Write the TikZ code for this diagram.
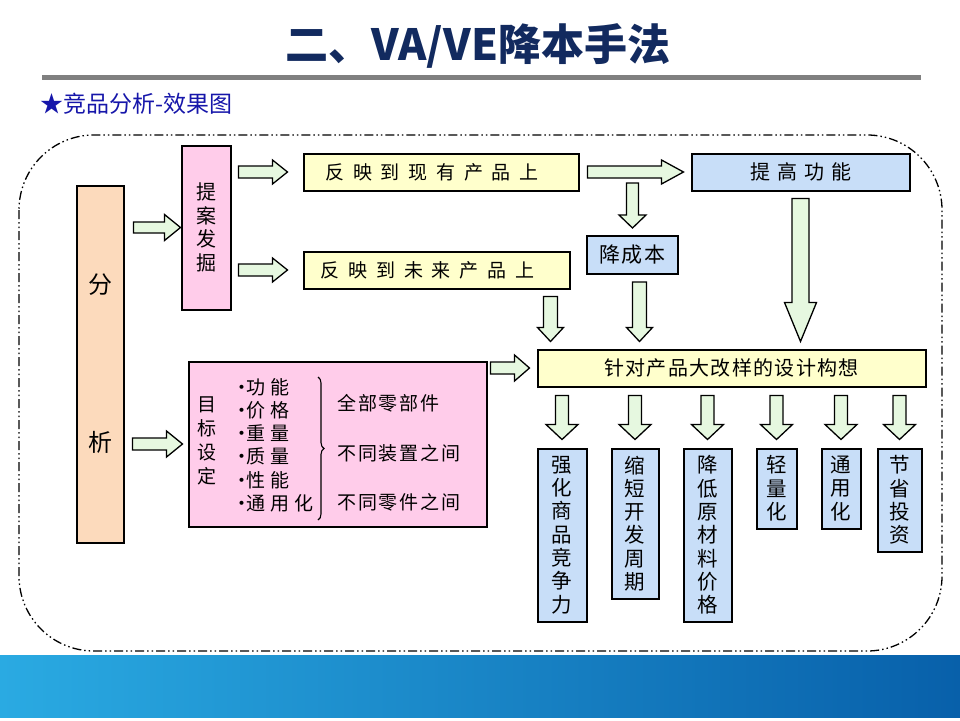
\documentclass[tikz,border=0pt]{standalone}
\usepackage{fontspec}
\setmainfont{Noto Sans CJK SC}
\usetikzlibrary{calc}
\usetikzlibrary{decorations.pathreplacing}
\definecolor{titlenavy}{RGB}{18,42,95}
\definecolor{subblue}{RGB}{22,22,170}
\definecolor{rulegray}{RGB}{128,128,128}
\definecolor{peachfill}{RGB}{252,218,188}
\definecolor{pinkfill}{RGB}{255,204,234}
\definecolor{creamfill}{RGB}{255,255,204}
\definecolor{skyfill}{RGB}{200,222,248}
\definecolor{arrowfill}{RGB}{230,248,224}
\definecolor{bandlight}{RGB}{42,170,226}
\definecolor{banddark}{RGB}{8,96,170}
\newcommand\lsfont[3]{\fontsize{#1}{#2}\selectfont\addfontfeature{LetterSpace=#3}}
\newcommand\mdot{\makebox[8pt][c]{·}}
\tikzset{box/.style={draw=black, line width=2pt, inner sep=0pt, align=center,
            font=\fontsize{19}{23}\selectfont},
         peachbox/.style={box, fill=peachfill},
         pinkbox/.style={box, fill=pinkfill},
         creambox/.style={box, fill=creamfill},
         skybox/.style={box, fill=skyfill},
         colbox/.style={skybox, font=\fontsize{20.5}{23.3}\selectfont},
         dashframe/.style={line width=1.3pt, rounded corners=75pt,
            dash pattern=on 9pt off 3pt on 1.5pt off 3pt on 1.5pt off 3pt},
         fat shaft/.store in=\fatshaft, fat head/.store in=\fathead,
         fat len/.store in=\fatlen, fat gap a/.store in=\fatgapa,
         fat gap b/.store in=\fatgapb,
         fat shaft=6pt, fat head=13pt, fat len=15pt, fat gap a=7pt, fat gap b=7pt,
         fatarrow/.style={draw=black, fill=arrowfill, line width=1.3pt,
            to path={let \p1=($(\tikztostart)!\fatgapa!(\tikztotarget)$),
                         \p2=($(\tikztotarget)!\fatgapb!(\tikztostart)$),
                         \p3=($(\p2)!\fatlen!(\p1)$) in
               ($(\p1)!\fatshaft!90:(\p2)$) -- ($(\p3)!\fatshaft!90:(\p2)$)
               -- ($(\p3)!\fathead!90:(\p2)$) -- (\p2)
               -- ($(\p3)!\fathead!-90:(\p2)$) -- ($(\p3)!\fatshaft!-90:(\p2)$)
               -- ($(\p1)!\fatshaft!-90:(\p2)$) -- cycle}}}
\begin{document}
\begin{tikzpicture}[x=1pt,y=-1pt]
\useasboundingbox (0,0) rectangle (960,720);
\fill[white] (0,0) rectangle (960,720);
\shade[left color=bandlight, right color=banddark] (0,655) rectangle (960,717);
\node[font=\fontsize{43}{46}\selectfont\bfseries, text=titlenavy] (title) at (478,46) {二、VA/VE降本手法};
\draw[line width=5pt, rulegray] (42,77.5) -- (921,77.5);
\node[anchor=west, inner sep=0pt, font=\fontsize{23}{26}\selectfont, text=subblue] (subtitle) at (40,104) {★竞品分析-效果图};
\draw[dashframe] (19,135) rectangle (942,651);

\node[peachbox, minimum width=47pt, minimum height=357pt, font=\fontsize{24}{26}\selectfont] (fenxi) at (100,364) {分\\[132pt]析};
\node[pinkbox, minimum width=49pt, minimum height=164pt, font=\fontsize{20}{23.5}\selectfont] (tian) at (206,227.5) {提\\案\\发\\掘};
\node[creambox, minimum width=275pt, minimum height=37pt, font=\lsfont{19}{21}{46}] (xianyou) at (441,172) {反映到现有产品上\hspace{18pt}};
\node[creambox, minimum width=266pt, minimum height=37pt, font=\lsfont{19}{21}{46}] (weilai) at (436.5,270) {反映到未来产品上\hspace{18pt}};
\node[skybox, minimum width=218pt, minimum height=37pt, font=\lsfont{20}{22}{35}] (tigao) at (800.5,172) {提高功能};
\node[skybox, minimum width=91pt, minimum height=38pt, font=\lsfont{21}{23}{5}] (jiang) at (632.5,255) {降成本};
\node[creambox, minimum width=388pt, minimum height=37pt, font=\lsfont{20}{22}{6.5}] (gouxiang) at (731.5,368) {针对产品大改样的设计构想};

\node[pinkbox, minimum width=298pt, minimum height=165pt] (mubiao) at (337.5,444) {};
\node[align=center, inner sep=0pt, font=\fontsize{19}{24}\selectfont] (mbtitle) at (207,441) {目\\标\\设\\定};
\node[anchor=west, align=left, inner sep=0pt, font=\lsfont{19}{23.2}{26}] (mblist) at (238,445) {\mdot 功能\\\mdot 价格\\\mdot 重量\\\mdot 质量\\\mdot 性能\\\mdot 通用化};
\draw[decorate, decoration={brace, amplitude=6pt}, line width=1.1pt] (318,377) -- (318,520);
\node[anchor=west, inner sep=0pt, font=\lsfont{19}{21}{10}] (quanbu) at (337,403) {全部零部件};
\node[anchor=west, inner sep=0pt, font=\lsfont{19}{21}{10}] (zhuangzhi) at (337,453) {不同装置之间};
\node[anchor=west, inner sep=0pt, font=\lsfont{19}{21}{10}] (lingjian) at (337,502) {不同零件之间};

\node[colbox, minimum width=49pt, minimum height=173pt] (qianghua) at (562,535) {强\\化\\商\\品\\竞\\争\\力};
\node[colbox, minimum width=47pt, minimum height=150pt] (suoduan) at (635,523.5) {缩\\短\\开\\发\\周\\期};
\node[colbox, minimum width=48pt, minimum height=173pt] (jiangdi) at (707.5,535) {降\\低\\原\\材\\料\\价\\格};
\node[colbox, minimum width=40pt, minimum height=80pt] (qingliang) at (776.5,488.5) {轻\\量\\化};
\node[colbox, minimum width=39pt, minimum height=80pt] (tongyong) at (841,488.5) {通\\用\\化};
\node[colbox, minimum width=44pt, minimum height=103pt] (jiesheng) at (899.5,500) {节\\省\\投\\资};

\draw[fatarrow, fat gap a=9pt, fat gap b=0pt, fat shaft=5.5pt, fat len=16pt] (fenxi.east |- tian.west) to (tian.west);
\draw[fatarrow, fat gap b=15pt, fat head=12pt] (tian.east |- xianyou.west) to (xianyou.west);
\draw[fatarrow, fat gap b=15pt, fat head=12pt] (tian.east |- weilai.west) to (weilai.west);
\draw[fatarrow, fat gap a=8pt, fat gap b=5pt, fat len=16pt] (fenxi.east |- mubiao.west) to (mubiao.west);
\draw[fatarrow, fat gap a=3pt] (mubiao.east |- gouxiang.west) to (gouxiang.west);
\draw[fatarrow, fat gap a=8pt, fat head=12pt, fat len=22pt] (xianyou.east) to (tigao.west);
\coordinate (fork) at (jiang.north |- xianyou.east);
\draw[fatarrow, fat gap a=11pt, fat head=13.5pt, fat len=13pt] (fork) to (jiang.north);
\coordinate (wlout) at ([xshift=-20pt]weilai.south east);
\draw[fatarrow, fat shaft=7pt, fat len=14pt] (wlout) to (wlout |- gouxiang.north);
\coordinate (jcout) at ([xshift=7pt]jiang.south);
\draw[fatarrow, fat shaft=7pt, fat len=14pt] (jcout) to (jcout |- gouxiang.north);
\draw[fatarrow, fat shaft=8.5pt, fat head=16pt, fat len=39pt] (tigao.south) to (tigao.south |- gouxiang.north);
\foreach \b in {qianghua,suoduan,jiangdi,qingliang,tongyong,jiesheng}
  \draw[fatarrow, fat gap a=8pt, fat gap b=8pt, fat shaft=6.5pt, fat head=16pt] (\b.north |- gouxiang.south) to (\b.north);
\end{tikzpicture}
\end{document}
